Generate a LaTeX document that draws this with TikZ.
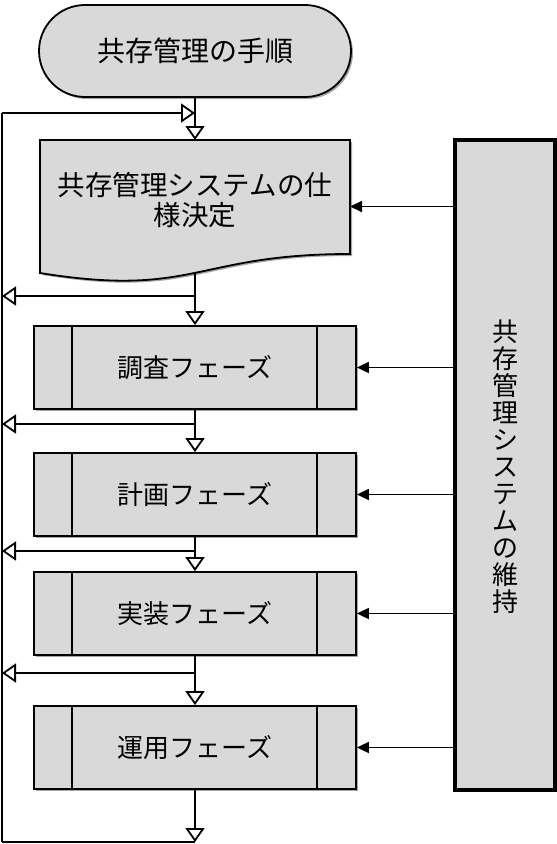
\documentclass[tikz,border=0pt]{standalone}
\usepackage{fontspec}
\newfontfamily\jp{Noto Sans CJK JP}
\usetikzlibrary{arrows.meta,shadows}
\definecolor{boxgray}{HTML}{D9D9D9}
\begin{document}
\begin{tikzpicture}[x=1pt,y=-1pt,
  shad/.style={drop shadow={shadow xshift=2pt,shadow yshift=-2pt,opacity=0.35,fill=black}},
  txt/.style={font=\jp\fontsize{26}{30}\selectfont, inner sep=0pt, align=center},
  term/.style={draw, line width=1.8pt, fill=boxgray, shad, rounded corners=46pt,
    minimum width=312pt, minimum height=92pt, inner sep=0pt, txt, font=\jp\fontsize{28}{30}\selectfont},
  proc/.style={draw, line width=1.8pt, fill=boxgray, shad,
    minimum width=322pt, minimum height=83pt, inner sep=0pt, txt},
  ghost/.style={inner sep=0pt, outer sep=0pt},
  maintbox/.style={draw, line width=3.5pt, fill=boxgray, shad,
    minimum width=100pt, minimum height=650pt, inner sep=0pt},
  conn/.style={line width=1.8pt},
  oarrow/.style={conn, -{Triangle[fill=white, length=14pt, width=19pt]}},
  farrow/.style={conn, -{Triangle[length=12pt, width=11pt]}},
]
\useasboundingbox (0,0) rectangle (557,844);

% start terminal
\node[term] (start) at (195,51) {共存管理の手順};

% document shape
\node[ghost, minimum width=310pt, minimum height=133pt] (doc) at (195,206.5) {};
\filldraw[line width=1.8pt, fill=boxgray, shad]
  (doc.north west) -- (doc.north east) -- (350,254)
  .. controls (195,254) and (195,298) .. (doc.south west) -- cycle;
\node[txt, font=\jp\fontsize{27.5}{30}\selectfont] (doctext) at (195,200) {共存管理システムの仕\\様決定};

% process boxes
\node[proc] (p1) at (195,367.5) {調査フェーズ};
\node[proc] (p2) at (195,494.5) {計画フェーズ};
\node[proc] (p3) at (195,613.5) {実装フェーズ};
\node[proc] (p4) at (195,747.5) {運用フェーズ};
\foreach \p in {p1,p2,p3,p4}{
  \draw[line width=1.8pt] ([xshift=39pt]\p.north west) -- ([xshift=39pt]\p.south west);
  \draw[line width=1.8pt] ([xshift=-40pt]\p.north east) -- ([xshift=-40pt]\p.south east);
}

% maintenance box
\node[maintbox] (m) at (505,465) {};
\node[font=\jp\fontsize{26}{27}\selectfont, inner sep=0pt, align=center] (mtext) at (505,467)
  {共\\存\\管\\理\\シ\\ス\\テ\\ム\\の\\維\\持};

% rail coordinates
\coordinate (rtop) at (2,113);
\coordinate (rbot) at (2,842);
\coordinate (b0) at (195,296);
\coordinate (b1) at (195,424);
\coordinate (b2) at (195,551);
\coordinate (b3) at (195,673);

% main flow
\draw[oarrow] (start.south) -- (doc.north);
\draw[conn] (rbot) -- (rtop);
\draw[oarrow] (rtop) -- (rtop -| start.south);
\draw[oarrow] (doc.south) -- (p1.north);
\draw[oarrow] (p1.south) -- (p2.north);
\draw[oarrow] (p2.south) -- (p3.north);
\draw[oarrow] (p3.south) -- (p4.north);
\draw[oarrow] (p4.south) -- (p4.south |- rbot);
\draw[conn] (rbot) -- (p4.south |- rbot);

% feedback branches
\foreach \b in {b0,b1,b2,b3}{
  \draw[oarrow] (\b) -- (\b -| rtop);
}

% maintenance arrows
\draw[farrow] (m.west |- doc.east) -- (doc.east);
\foreach \p in {p1,p2,p3,p4}{
  \draw[farrow] (m.west |- \p.east) -- (\p.east);
}
\end{tikzpicture}
\end{document}
